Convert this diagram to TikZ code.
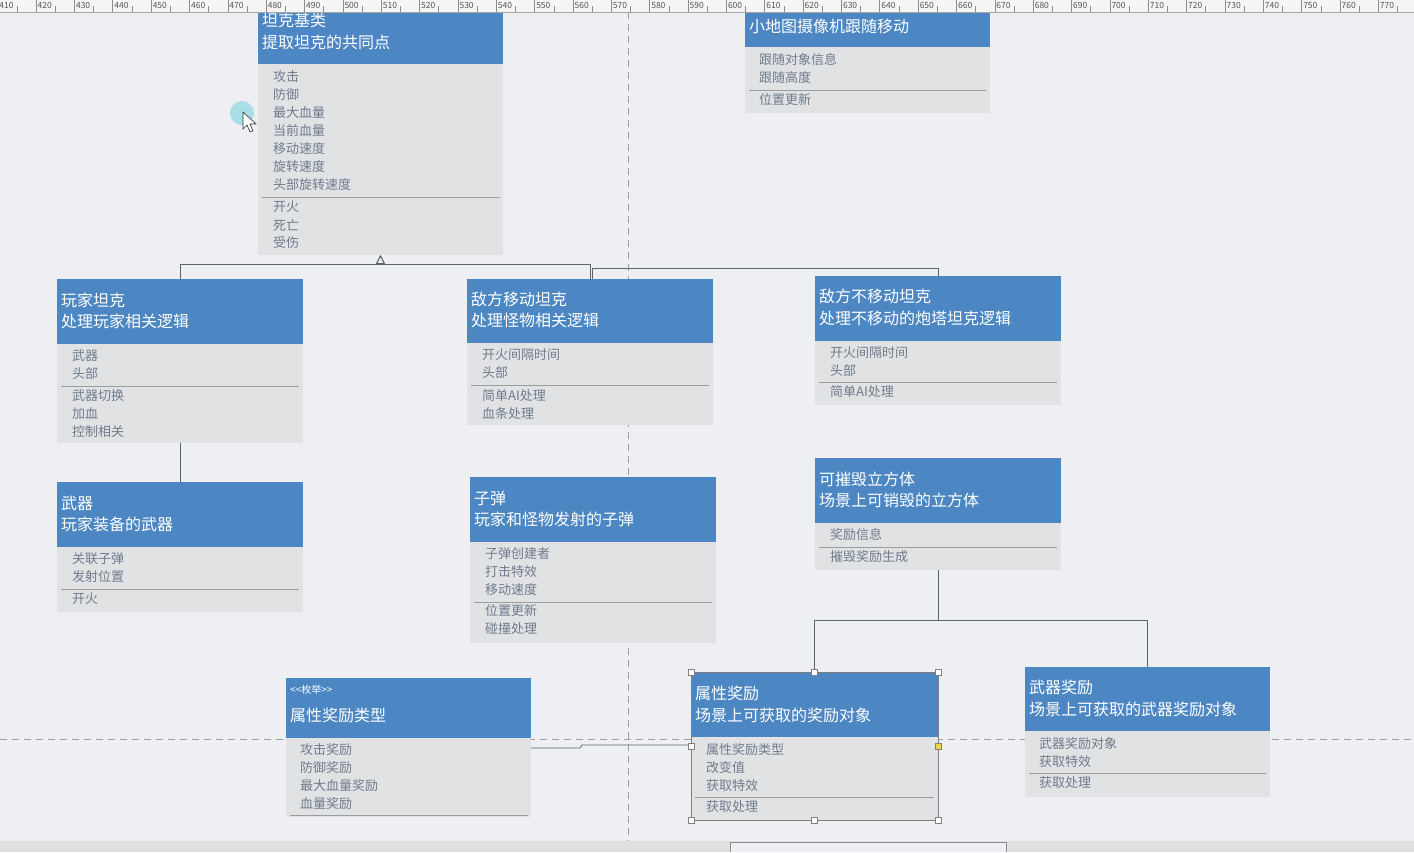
\documentclass[tikz,border=0pt]{standalone}
\usepackage{fontspec}
\newfontfamily\cjk{Noto Sans CJK SC}
\usetikzlibrary{arrows.meta}
\definecolor{bgc}{HTML}{EDEFF2}
\definecolor{hdrblue}{HTML}{4C87C4}
\definecolor{bodyg}{HTML}{E1E2E4}
\definecolor{attrc}{HTML}{6F7C8C}
\definecolor{sepc}{HTML}{9C9C9C}
\definecolor{connc}{HTML}{5B6570}
\definecolor{guidec}{HTML}{A0A0A0}
\definecolor{rulerc}{HTML}{F5F5F5}
\definecolor{rulertxt}{HTML}{555555}
\definecolor{cursc}{HTML}{9EDCE6}
\definecolor{handy}{HTML}{E8D44D}
\tikzset{
  hdr/.style={fill=hdrblue, draw=none, inner sep=0pt, outer sep=0pt, anchor=north west},
  bdy/.style={fill=bodyg, draw=none, inner sep=0pt, outer sep=0pt, anchor=north west},
  htx/.style={text=white, font=\cjk\fontsize{16}{19}\selectfont, anchor=west, inner sep=0pt},
  stx/.style={text=white, font=\cjk\fontsize{10}{12}\selectfont, anchor=west, inner sep=0pt},
  atx/.style={text=attrc, font=\cjk\fontsize{13}{15}\selectfont, anchor=west, inner sep=0pt},
  sepl/.style={draw=sepc, line width=0.9pt},
  conn/.style={draw=connc, line width=0.8pt},
  inh/.style={conn, -{Triangle[open, length=9pt, width=9pt]}},
  guide/.style={draw=guidec, dash pattern=on 7pt off 5pt, line width=0.8pt},
  rtx/.style={text=rulertxt, font=\cjk\fontsize{8.5}{10}\selectfont, anchor=west, inner sep=0pt},
  handle/.style={draw=gray, fill=white, line width=0.5pt, minimum size=6pt, inner sep=0pt},
}
\newcommand\umlboxx[6]{%
  \node[bdy, minimum width=#4pt, minimum height=#6pt] (#1-b) at (#2,#3+#5) {};
  \node[hdr, minimum width=#4pt, minimum height=#5pt] (#1-h) at (#2,#3) {};
}
\newcommand\atts[4]{%
  \foreach \t [count=\i] in {#4} \node[atx] (#1-a\i) at (#2,{#3+18*(\i-1)}) {\t};
}
\newcommand\meths[4]{%
  \foreach \t [count=\i] in {#4} \node[atx] (#1-m\i) at (#2,{#3+18*(\i-1)}) {\t};
}
\begin{document}
\begin{tikzpicture}[x=1pt,y=-1pt]
\useasboundingbox (0,0) rectangle (1414,852);
\clip (0,0) rectangle (1414,852);
\fill[bgc] (0,0) rectangle (1414,852);

% guides
\coordinate (gv1) at (628,12);
\coordinate (gv2) at (628,842);
\coordinate (gh1) at (0,739);
\coordinate (gh2) at (1414,739);
\draw[guide] (gv1) -- (gv2);
\draw[guide] (gh1) -- (gh2);

% --- tank base class
\umlboxx{base}{258}{-2}{245}{66}{191}
\node[htx] (base-t1) at (262,20) {坦克基类};
\node[htx] (base-t2) at (262,42) {提取坦克的共同点};
\atts{base}{273}{77}{攻击,防御,最大血量,当前血量,移动速度,旋转速度,头部旋转速度}
\draw[sepl] (262,197) -- (500,197);
\meths{base}{273}{207}{开火,死亡,受伤}

% --- minimap camera
\umlboxx{cam}{745}{4}{245}{43}{66}
\node[htx] (cam-t1) at (749,26) {小地图摄像机跟随移动};
\atts{cam}{759}{60}{跟随对象信息,跟随高度}
\draw[sepl] (749,90) -- (986,90);
\meths{cam}{759}{100}{位置更新}

% --- player tank
\umlboxx{pt}{57}{279}{246}{65}{99}
\node[htx] (pt-t1) at (61,300) {玩家坦克};
\node[htx] (pt-t2) at (61,321) {处理玩家相关逻辑};
\atts{pt}{72}{356}{武器,头部}
\draw[sepl] (61,386) -- (299,386);
\meths{pt}{72}{396}{武器切换,加血,控制相关}

% --- enemy moving tank
\umlboxx{em}{467}{279}{246}{64}{82}
\node[htx] (em-t1) at (471,299) {敌方移动坦克};
\node[htx] (em-t2) at (471,320) {处理怪物相关逻辑};
\atts{em}{482}{355}{开火间隔时间,头部}
\draw[sepl] (471,385) -- (709,385);
\meths{em}{482}{396}{简单AI处理,血条处理}

% --- enemy static tank
\umlboxx{es}{815}{276}{246}{65}{64}
\node[htx] (es-t1) at (819,296) {敌方不移动坦克};
\node[htx] (es-t2) at (819,318) {处理不移动的炮塔坦克逻辑};
\atts{es}{830}{353}{开火间隔时间,头部}
\draw[sepl] (819,382) -- (1057,382);
\meths{es}{830}{392}{简单AI处理}

% --- weapon
\umlboxx{wp}{57}{482}{246}{65}{65}
\node[htx] (wp-t1) at (61,503) {武器};
\node[htx] (wp-t2) at (61,524) {玩家装备的武器};
\atts{wp}{72}{559}{关联子弹,发射位置}
\draw[sepl] (61,589) -- (299,589);
\meths{wp}{72}{599}{开火}

% --- bullet
\umlboxx{bl}{470}{477}{246}{65}{101}
\node[htx] (bl-t1) at (474,498) {子弹};
\node[htx] (bl-t2) at (474,519) {玩家和怪物发射的子弹};
\atts{bl}{485}{554}{子弹创建者,打击特效,移动速度}
\draw[sepl] (474,602) -- (712,602);
\meths{bl}{485}{611}{位置更新,碰撞处理}

% --- destructible cube
\umlboxx{cube}{815}{458}{246}{65}{47}
\node[htx] (cube-t1) at (819,479) {可摧毁立方体};
\node[htx] (cube-t2) at (819,500) {场景上可销毁的立方体};
\atts{cube}{830}{535}{奖励信息}
\draw[sepl] (819,547) -- (1057,547);
\meths{cube}{830}{557}{摧毁奖励生成}

% --- enum
\umlboxx{enum}{286}{678}{245}{60}{79}
\node[stx] (enum-s) at (290,690) {<\kern0pt<枚举>\kern0pt>};
\node[htx] (enum-t1) at (290,715) {属性奖励类型};
\atts{enum}{300}{750}{攻击奖励,防御奖励,最大血量奖励,血量奖励}
\draw[sepl] (290,815) -- (528,815);

% --- attribute reward
\umlboxx{ab}{691}{672}{247}{65}{83}
\node[htx] (ab-t1) at (695,693) {属性奖励};
\node[htx] (ab-t2) at (695,715) {场景上可获取的奖励对象};
\atts{ab}{706}{750}{属性奖励类型,改变值,获取特效}
\draw[sepl] (695,797) -- (934,797);
\meths{ab}{706}{807}{获取处理}

% --- weapon reward
\umlboxx{wr}{1025}{667}{245}{64}{66}
\node[htx] (wr-t1) at (1029,687) {武器奖励};
\node[htx] (wr-t2) at (1029,709) {场景上可获取的武器奖励对象};
\atts{wr}{1039}{744}{武器奖励对象,获取特效}
\draw[sepl] (1029,773) -- (1266,773);
\meths{wr}{1039}{783}{获取处理}

% --- connectors
\draw[inh] (pt-h.north) -- ++(0,-15) -| (base-b.south);
\draw[inh] (em-h.north) -- ++(0,-15) -| (base-b.south);
\draw[conn] (es-h.north) -- ++(0,-8) -| ([xshift=2pt]em-h.north);
\draw[conn] (pt-b.south) -- (wp-h.north);
\draw[conn] (cube-b.south) -- ++(0,50) -| (ab-h.north);
\draw[conn] (cube-b.south) -- ++(0,50) -| (wr-h.north);
\draw[conn] ([yshift=-10pt]enum-b.north east) -- ++(49,0) -- ++(2,-3) -- ([yshift=-8pt]ab-b.north west);

% --- selection of attribute reward
\draw[gray, line width=0.6pt] (ab-h.north west) rectangle (ab-b.south east);
\foreach \p [count=\k] in {ab-h.north west, ab-h.north, ab-h.north east, ab-b.south west, ab-b.south, ab-b.south east}
  \node[handle] (sh\k) at (\p) {};
\node[handle] (shl) at ([yshift=-9pt]ab-b.north west) {};
\node[handle, fill=handy] (shr) at ([yshift=-9pt]ab-b.north east) {};

% --- cursor
\fill[cursc, opacity=0.85] (242,113) circle (12);
\draw[black!80, fill=white, line width=0.6pt] (243,112) -- (243,129) -- (247,125) -- (250,132) -- (253,131) -- (250,124) -- (256,124) -- cycle;

% --- ruler
\fill[rulerc] (0,0) rectangle (1414,12);
\draw[black!35, line width=0.6pt] (0,12) -- (1414,12);
\foreach \n in {410,420,...,770} {
  \pgfmathsetmacro\rx{36+(\n-420)*3.835}
  \draw[black!45, line width=0.5pt] (\rx,0) -- (\rx,12);
  \draw[black!45, line width=0.5pt] (\rx+19.2,6) -- (\rx+19.2,12);
  \node[rtx] (r\n) at (\rx+1.5,5) {\n};
}

% --- bottom strip
\fill[black!12] (0,841) rectangle (1414,852);
\draw[black!45, fill=bgc, line width=0.6pt] (730,852) -- (730,842) -- (1006,842) -- (1006,852);
\end{tikzpicture}
\end{document}
